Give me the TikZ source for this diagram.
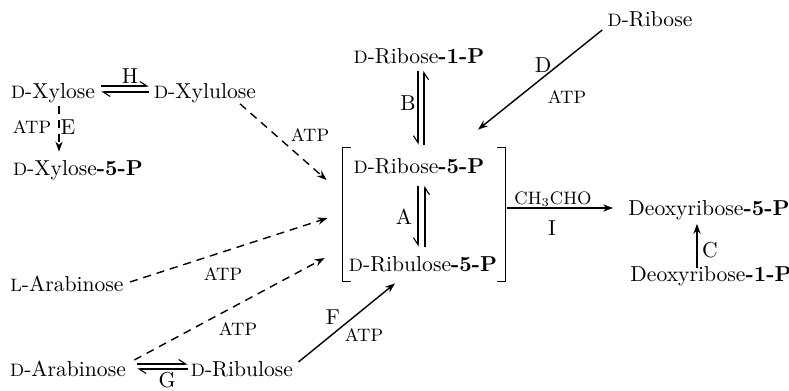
\documentclass[tikz,border=0pt]{standalone}
\usetikzlibrary{arrows.meta}
\newcommand\smc[1]{{\fontsize{9}{10}\selectfont #1}}
\begin{document}
\begin{tikzpicture}[x=0.5pt,y=-0.5pt,
  lbl/.style={inner sep=0pt, font=\fontsize{10.8}{13}\selectfont, anchor=base},
  tag/.style={inner sep=0pt, font=\fontsize{10.8}{13}\selectfont},
  atp/.style={inner sep=0pt, font=\fontsize{9}{10}\selectfont},
  conv/.style={line width=0.7pt, -{Stealth[length=5pt,width=3.6pt]}},
  dconv/.style={conv, dash pattern=on 4pt off 3pt},
  hp/.style={line width=0.55pt, -{Straight Barb[harpoon,length=3.5pt,width=4.5pt]}},
  hps/.style={line width=0.55pt, -{Straight Barb[harpoon,swap,length=3.5pt,width=4.5pt]}},
  brk/.style={line width=0.7pt}]
\useasboundingbox (0,0) rectangle (789,391);
\clip (0,0) rectangle (789,391);

% compounds
\node[lbl] (xyl) at (53,98) {\smc{D}-Xylose};
\node[lbl] (xylu) at (205,98) {\smc{D}-Xylulose};
\node[lbl] (xyl5) at (78,175) {\smc{D}-Xylose\textbf{-5-P}};
\node[lbl] (rib1) at (419,63) {\smc{D}-Ribose\textbf{-1-P}};
\node[lbl] (rib) at (650,26) {\smc{D}-Ribose};
\node[lbl] (rib5) at (419,173) {\smc{D}-Ribose\textbf{-5-P}};
\node[lbl] (ribu5) at (423,271) {\smc{D}-Ribulose\textbf{-5-P}};
\node[lbl] (deo5) at (709,215) {Deoxyribose\textbf{-5-P}};
\node[lbl] (deo1) at (711,281) {Deoxyribose\textbf{-1-P}};
\node[lbl] (larab) at (67,291) {\smc{L}-Arabinose};
\node[lbl] (darab) at (68,376) {\smc{D}-Arabinose};
\node[lbl] (ribu) at (242,376) {\smc{D}-Ribulose};

% bracket
\node[minimum width=81pt, minimum height=66.5pt, inner sep=0pt] (box) at (424,214.5) {};
\draw[brk] ([xshift=4pt]box.north west) -- (box.north west) -- (box.south west) -- ([xshift=4pt]box.south west);
\draw[brk] ([xshift=-4pt]box.north east) -- (box.north east) -- (box.south east) -- ([xshift=-4pt]box.south east);

% E
\draw[dconv] ([xshift=3pt,yshift=-1.5pt]xyl.south) -- ([xshift=-9.5pt,yshift=4pt]xyl5.north);
\node[atp] (atpE) at (32,127) {ATP};
\node[tag] (lE) at (68,127) {E};

% H
\draw[hp] ([xshift=3pt,yshift=6pt]xyl.base east) -- ([xshift=-2.5pt,yshift=6pt]xylu.base west);
\draw[hp] ([xshift=-2.5pt,yshift=3pt]xylu.base west) -- ([xshift=3pt,yshift=3pt]xyl.base east);
\node[tag] (lH) at (130,76) {H};

% xylulose -> box
\draw[dconv] ([xshift=17.5pt,yshift=-0.5pt]xylu.south) -- ([xshift=-8pt,yshift=17.25pt]box.west);
\node[atp] (atpX) at (310,135) {ATP};

% D
\draw[conv] ([xshift=-2.5pt,yshift=-2pt]rib.base west) -- ([xshift=27pt,yshift=9pt]box.north);
\node[tag] (lD) at (543,65) {D};
\node[atp] (atpD) at (567,97) {ATP};

% B
\draw[hps] ([xshift=-0.5pt,yshift=-3.5pt]rib1.south) -- ([xshift=-0.5pt,yshift=6.5pt]rib5.north);
\draw[hps] ([xshift=2.5pt,yshift=6.5pt]rib5.north) -- ([xshift=2.5pt,yshift=-3.5pt]rib1.south);
\node[tag] (lB) at (408,103) {B};

% A
\draw[hps] ([xshift=-0.5pt,yshift=-6pt]rib5.south) -- ([xshift=-2.5pt,yshift=4.5pt]ribu5.north);
\draw[hps] ([xshift=1pt,yshift=4.5pt]ribu5.north) -- ([xshift=3pt,yshift=-6pt]rib5.south);
\node[tag] (lA) at (404,217) {A};

% I
\draw[conv] ([xshift=1pt,yshift=3.25pt]box.east) -- ([xshift=-7.5pt,yshift=3.5pt]deo5.base west);
\node[atp] (ald) at (553,199) {CH$_3$CHO};
\node[tag] (lI) at (552,228) {I};

% C
\draw[conv] ([xshift=-7pt,yshift=-1pt]deo1.north) -- ([xshift=-6pt,yshift=-2pt]deo5.south);
\node[tag] (lC) at (710,250) {C};

% L-arabinose
\draw[dconv] ([xshift=3pt,yshift=4.5pt]larab.base east) -- ([xshift=-7.5pt,yshift=-1.75pt]box.west);
\node[atp] (atpL) at (223,274) {ATP};

% D-arabinose
\draw[dconv] ([xshift=4pt,yshift=8pt]darab.base east) -- ([xshift=-9pt,yshift=-21.75pt]box.west);
\node[atp] (atpDA) at (238,329) {ATP};

% G
\draw[hp] ([xshift=5.5pt,yshift=6pt]darab.base east) -- ([xshift=-1.5pt,yshift=6pt]ribu.base west);
\draw[hp] ([xshift=-1.5pt,yshift=3.5pt]ribu.base west) -- ([xshift=5.5pt,yshift=3.5pt]darab.base east);
\node[tag] (lG) at (167,380) {G};

% F
\draw[conv] ([xshift=2.5pt,yshift=7pt]ribu.base east) -- ([xshift=-14.5pt,yshift=-1pt]box.south);
\node[tag] (lF) at (333,317) {F};
\node[atp] (atpF) at (364,335) {ATP};
\end{tikzpicture}
\end{document}
